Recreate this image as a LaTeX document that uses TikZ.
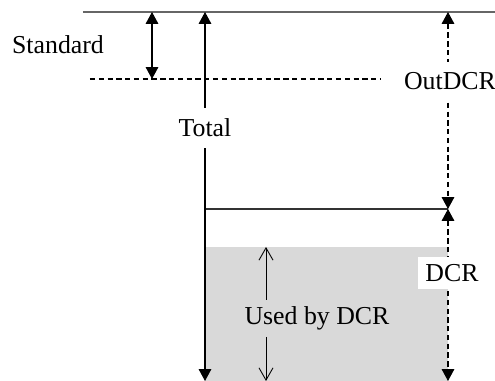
\documentclass[tikz,border=0pt]{standalone}
\usepackage{fontspec}
\setmainfont{Liberation Serif}
\usetikzlibrary{arrows.meta}

\tikzset{
  dim/.style={line width=0.6pt, {Triangle[length=6.8pt,width=7.2pt]}-{Triangle[length=6.8pt,width=7.2pt]}},
  thin dim/.style={line width=0.5pt, -{Straight Barb[length=7pt,width=8pt]}},
  dashes/.style={dash pattern=on 3pt off 2pt},
  label/.style={fill=white, inner sep=4pt}
}

\begin{document}
\begin{tikzpicture}[x=0.02cm, y=-0.02cm, font=\fontsize{14.7}{17}\selectfont]
\useasboundingbox (0,0) rectangle (495,381);

% levels
\coordinate (top L) at (83,12);   \coordinate (top R) at (495,12);
\coordinate (std L) at (90,79);   \coordinate (std R) at (380,79);
\coordinate (dcr L) at (205,209); \coordinate (dcr R) at (448,209);

\fill[black!15] (205,247) rectangle (448,381);
\draw[line width=1pt, black!60] (top L) -- (top R);
\draw[line width=0.6pt, dashes] (std L) -- (std R);
\draw[line width=0.6pt, black!80] (dcr L) -- (dcr R);

% Standard
\draw[dim] (152,12) -- (152,79);
\node (std) at (58,45) {Standard};

% Total
\draw[dim] (205,12) -- (205,381);
\node[label, inner sep=6pt] (tot) at (205,128) {Total};

% OutDCR / DCR
\draw[dim, dashes] (448,12) -- (dcr R);
\node[label, inner sep=6pt] (out) at (450,81) {OutDCR};
\draw[dim, dashes] (dcr R) -- (448,381);
\node[label] (dcr) at (452,273) {DCR};

% Used by DCR
\node (used) at (317,318) {Used by DCR};
\draw[thin dim] (266,300) -- (266,247);
\draw[thin dim] (266,337) -- (266,381);
\end{tikzpicture}
\end{document}
